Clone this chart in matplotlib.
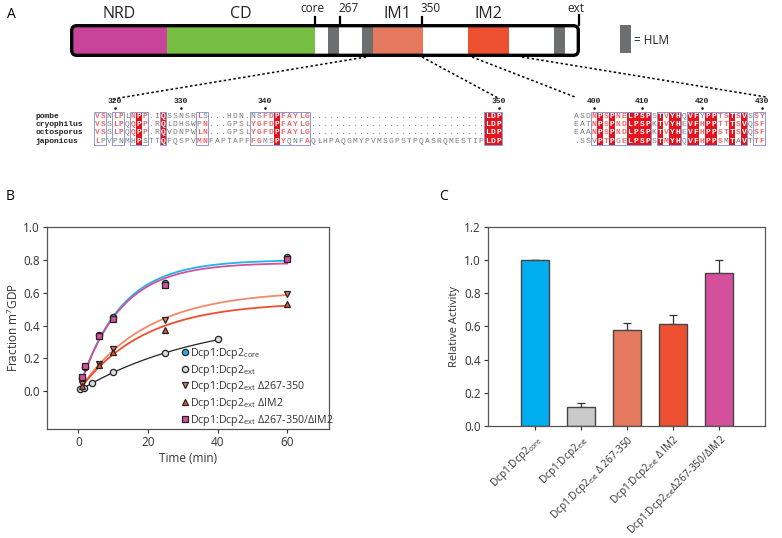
import numpy as np
import matplotlib
matplotlib.use('Agg')
import matplotlib.pyplot as plt
from matplotlib.patches import Rectangle, FancyBboxPatch

plt.rcParams['font.family'] = ['Open Sans', 'DejaVu Sans']
plt.rcParams['mathtext.default'] = 'regular'

# ---- Panel A : domain bar (positions along the bar, px) ----
domain_names = ['NRD', 'CD', 'IM1', 'IM2']
domain_start = [72, 166.5, 372.5, 467.5]
domain_end = [166.5, 315, 422.5, 509]
domain_colors = ['#C8449A', '#77BF43', '#E5795E', '#EE5132']
hlm_start = [327.5, 361.5, 553.5]
hlm_end = [338.5, 372.5, 565]
mark_names = ['core', '267', '350', 'ext']
mark_pos = [315, 339.5, 421.5, 578.5]

# ---- Panel A : alignment ----
species = ['pombe', 'cryophilus', 'octosporus', 'japonicus']
seq_left = ['VSNLPLNPP.IQSSNSRLS...HDN.NSFDPFAYLG.............................LDP',
            'VSSLPQQPP.RQLDHSWPN...GPSLYGFDPFAYLG.............................LDP',
            'VSSLPQQPP.RQVDNPWLN...GPSLYGFDPFAYLG.............................LDP',
            'LPVPNMHPSTTQFQSPVMNFAPTAPFFGMSPYQNFAQLHPAQGMYPVMSGPSTPQASRQMESTIPLDP']
seq_right = ['ASDNPSPNELPSPSTVYHQVFYPPTSTSVSSY',
             'EATNPSPNDLPSPKTVYHEVFHPPTTTSVQSF',
             'EAANPSPNDLPSPKTVYHEVFHPPSTTSVQSF',
             '.SSVPTPGELPSPSTMYHQVFHPPSMTAVTTF']
ticks_left_idx = [3, 14, 28, 67]
ticks_left_lab = ['320', '330', '340', '350']
ticks_right_idx = [3, 11, 21, 31]
ticks_right_lab = ['400', '410', '420', '430']

# ---- Panel B : time courses ----
t_core = [1, 2, 6, 10, 25, 60]
y_core = [0.08, 0.15, 0.34, 0.45, 0.66, 0.82]
t_ext = [0.5, 1.5, 4, 10, 25, 40]
y_ext = [0.012, 0.022, 0.053, 0.115, 0.23, 0.315]
t_d267 = [1, 6, 10, 25, 60]
y_d267 = [0.045, 0.165, 0.255, 0.435, 0.59]
t_dim2 = [1, 6, 10, 25, 60]
y_dim2 = [0.03, 0.16, 0.24, 0.375, 0.53]
t_dd = [1, 2, 6, 10, 25, 60]
y_dd = [0.085, 0.155, 0.335, 0.44, 0.645, 0.805]

# ---- Panel C : relative activity ----
bar_labels = ['Dcp1:Dcp2$_{core}$', 'Dcp1:Dcp2$_{ext}$', 'Dcp1:Dcp2$_{ext}$ Δ 267-350',
              'Dcp1:Dcp2$_{ext}$ Δ IM2', 'Dcp1:Dcp2$_{ext}$Δ267-350/ΔIM2']
activity = [1.0, 0.115, 0.58, 0.615, 0.925]
activity_err = [0.0, 0.025, 0.04, 0.055, 0.075]
bar_colors = ['#00AEEF', '#C8C9CA', '#E5795E', '#EE5132', '#D5509B']

fig = plt.figure(figsize=(7.82, 5.38), dpi=100)

# overlay axes in pixel units for panel A and panel letters
ax = fig.add_axes([0, 0, 1, 1])
ax.set_xlim(0, 782)
ax.set_ylim(538, 0)
ax.axis('off')

ax.text(11, 15, 'A', fontsize=10, va='center', ha='center')
ax.text(10, 197, 'B', fontsize=10, va='center', ha='center')
ax.text(443, 197, 'C', fontsize=10, va='center', ha='center')

outline = FancyBboxPatch((71.7, 25.7), 506.6, 29.6, boxstyle='round,pad=0,rounding_size=5',
                         fc='white', ec='none', zorder=1)
ax.add_patch(outline)
for s, e, c in zip(domain_start, domain_end, domain_colors):
    r = Rectangle((s, 24), e - s, 34, fc=c, ec='none', zorder=2)
    ax.add_patch(r)
    r.set_clip_path(outline)
for s, e in zip(hlm_start, hlm_end):
    r = Rectangle((s, 24), e - s, 34, fc='#6D6E70', ec='none', zorder=2)
    ax.add_patch(r)
    r.set_clip_path(outline)
ax.add_patch(FancyBboxPatch((71.7, 25.7), 506.6, 29.6, boxstyle='round,pad=0,rounding_size=5',
                            fc='none', ec='black', lw=2.4, zorder=3))
for nm, s, e in zip(domain_names, domain_start, domain_end):
    ax.text((s + e) / 2, 14, nm, fontsize=11.5, ha='center', va='center', color='#222')
for nm, p in zip(mark_names, mark_pos):
    top = 15 if nm == 'ext' else 17
    ax.plot([p, p], [top, 25], color='black', lw=1.6, zorder=3)
    ax.text(p - 3 if nm in ('core', 'ext') else p + 9, 9, nm, fontsize=8.5,
            ha='center', va='center', color='#222')
ax.add_patch(Rectangle((620, 25), 11, 28, fc='#6D6E70', ec='none'))
ax.text(634, 40, '= HLM', fontsize=8.5, va='center', ha='left', color='#222')

# dotted zoom lines
for (x0, x1, y1) in [(366, 113, 99), (422, 498, 98), (472, 575, 97), (522, 766, 97)]:
    ax.plot([x0, x1], [57, y1], color='black', lw=1.1, ls=(0, (1.6, 1.6)))

groups = ['ILVM', 'FYW', 'KRH', 'DE', 'NQ', 'ST', 'AG', 'P', 'C']


def grp(ch):
    for g in groups:
        if ch in g:
            return g
    return None


def draw_block(seqs, x0, cw, tick_idx, tick_lab):
    row_y = [116 + 8.3 * i for i in range(len(seqs))]
    ncol = len(seqs[0])
    boxed = []
    for j in range(ncol):
        col = [s[j] for s in seqs]
        ident = all(c == col[0] for c in col) and col[0] != '.'
        gs = [grp(c) for c in col if c != '.']
        best = None
        for g in set(gs):
            if g is not None and gs.count(g) >= 3:
                best = g
        boxed.append(ident or best is not None)
        for i, c in enumerate(col):
            xc = x0 + cw * (j + 0.5)
            if ident:
                ax.add_patch(Rectangle((x0 + cw * j, row_y[i] - 4.15), cw, 8.3,
                                       fc='#E3141E', ec='none', zorder=2))
                color, w = 'white', 'bold'
            elif best is not None and grp(c) == best:
                color, w = '#F06A6A', 'bold'
            else:
                color, w = '#7A7A7A', 'normal'
            ax.text(xc, row_y[i] + 0.3, c, fontsize=5.8, family='Liberation Mono',
                    weight=w, color=color, ha='center', va='center', zorder=3)
    # blue boxes around runs of boxed columns
    j = 0
    while j < ncol:
        if boxed[j]:
            k = j
            while k + 1 < ncol and boxed[k + 1]:
                k += 1
            ax.add_patch(Rectangle((x0 + cw * j, row_y[0] - 4.15), cw * (k - j + 1),
                                   8.3 * len(seqs), fc='none', ec='#8C9BD6', lw=0.7, zorder=4))
            j = k + 1
        else:
            j += 1
    for idx, lab in zip(tick_idx, tick_lab):
        xc = x0 + cw * (idx + 0.5)
        ax.text(xc, 101.5, lab, fontsize=5.8, family='Liberation Mono', weight='bold',
                ha='center', va='center', color='#222')
        ax.plot([xc], [107.5], marker='o', ms=0.9, color='#222', ls='none')
    return row_y


rows = draw_block(seq_left, 94, 6.0, ticks_left_idx, ticks_left_lab)
draw_block(seq_right, 573, 6.0, ticks_right_idx, ticks_right_lab)
for nm, y in zip(species, rows):
    ax.text(36, y + 0.3, nm, fontsize=5.8, family='Liberation Mono', weight='bold',
            ha='left', va='center', color='#222')

# ---- Panel B ----
axb = fig.add_axes([0.0601, 0.2026, 0.3606, 0.3755])


def fit_exp(t, y):
    t = np.asarray(t, float)
    y = np.asarray(y, float)
    best = None
    for k in np.linspace(0.005, 0.5, 2000):
        f = 1 - np.exp(-k * t)
        a = np.sum(f * y) / np.sum(f * f)
        sse = np.sum((a * f - y) ** 2)
        if best is None or sse < best[0]:
            best = (sse, a, k)
    return best[1], best[2]


series = [
    (t_core, y_core, 'o', '#1CB5EA', '#1CB5EA', 'Dcp1:Dcp2$_{core}$', 1.0),
    (t_ext, y_ext, 'o', '#D9D9D9', '#222222', 'Dcp1:Dcp2$_{ext}$', 0.5),
    (t_d267, y_d267, 'v', '#E5795E', '#F08A6A', 'Dcp1:Dcp2$_{ext}$ Δ267-350', 1.0),
    (t_dim2, y_dim2, '^', '#EE5132', '#EE4D2E', 'Dcp1:Dcp2$_{ext}$ ΔIM2', 1.0),
    (t_dd, y_dd, 's', '#D5509B', '#D5509B', 'Dcp1:Dcp2$_{ext}$ Δ267-350/ΔIM2', 1.0),
]
for t, y, m, fc, lc, lab, t0 in series:
    a, k = fit_exp(t, y)
    tt = np.linspace(t0, max(t), 200)
    axb.plot(tt, a * (1 - np.exp(-k * tt)), color=lc, lw=1.3 if lc != '#222222' else 0.9, zorder=2)
for t, y, m, fc, lc, lab, t0 in series:
    axb.plot(t, y, ls='none', marker=m, ms=4.5, mfc=fc, mec='#222', mew=0.9, label=lab, zorder=3)

axb.set_xlim(-9, 72)
axb.set_ylim(-0.23, 1.0)
axb.set_xticks([0, 20, 40, 60])
axb.set_yticks([0.0, 0.2, 0.4, 0.6, 0.8, 1.0])
axb.set_yticklabels(['0.0', '0.2', '0.4', '0.6', '0.8', '1.0'])
axb.set_xlabel('Time (min)', fontsize=8.5, color='#333', labelpad=2)
axb.set_ylabel('Fraction m$^7$GDP', fontsize=8.5, color='#333', labelpad=2)
axb.tick_params(labelsize=8.5, colors='#333', length=3, width=0.8, pad=2)
for sp in axb.spines.values():
    sp.set_color('#555')
    sp.set_linewidth(0.9)
axb.legend(loc='lower left', bbox_to_anchor=(0.455, -0.025), frameon=False, fontsize=7.7,
           handlelength=0.6, handletextpad=0.15, labelspacing=0.16, borderaxespad=0.2,
           labelcolor='#333')

# ---- Panel C ----
axc = fig.add_axes([0.624, 0.2082, 0.354, 0.370])
xpos = np.arange(len(activity))
axc.bar(xpos, activity, width=0.6, color=bar_colors, edgecolor='#444', linewidth=1.0, zorder=2)
axc.errorbar(xpos, activity, yerr=[np.zeros(len(activity)), activity_err], fmt='none',
             ecolor='#333', elinewidth=0.9, capsize=3, capthick=0.9, zorder=1)
axc.set_xlim(-1.02, 5.0)
axc.set_ylim(0, 1.2)
axc.set_yticks([0.0, 0.2, 0.4, 0.6, 0.8, 1.0, 1.2])
axc.set_yticklabels(['0.0', '0.2', '0.4', '0.6', '0.8', '1.0', '1.2'])
axc.set_xticks(xpos)
axc.set_xticklabels(bar_labels, rotation=45, ha='right', rotation_mode='anchor', fontsize=7.3,
                    color='#333')
axc.set_ylabel('Relative Activity', fontsize=8, color='#333', labelpad=3)
axc.tick_params(axis='y', labelsize=8.5, colors='#333', length=3, width=0.8, pad=2)
axc.tick_params(axis='x', length=3, width=0.8, colors='#333', pad=2)
for sp in axc.spines.values():
    sp.set_color('#555')
    sp.set_linewidth(0.9)

fig.savefig('out.png', dpi=100)
